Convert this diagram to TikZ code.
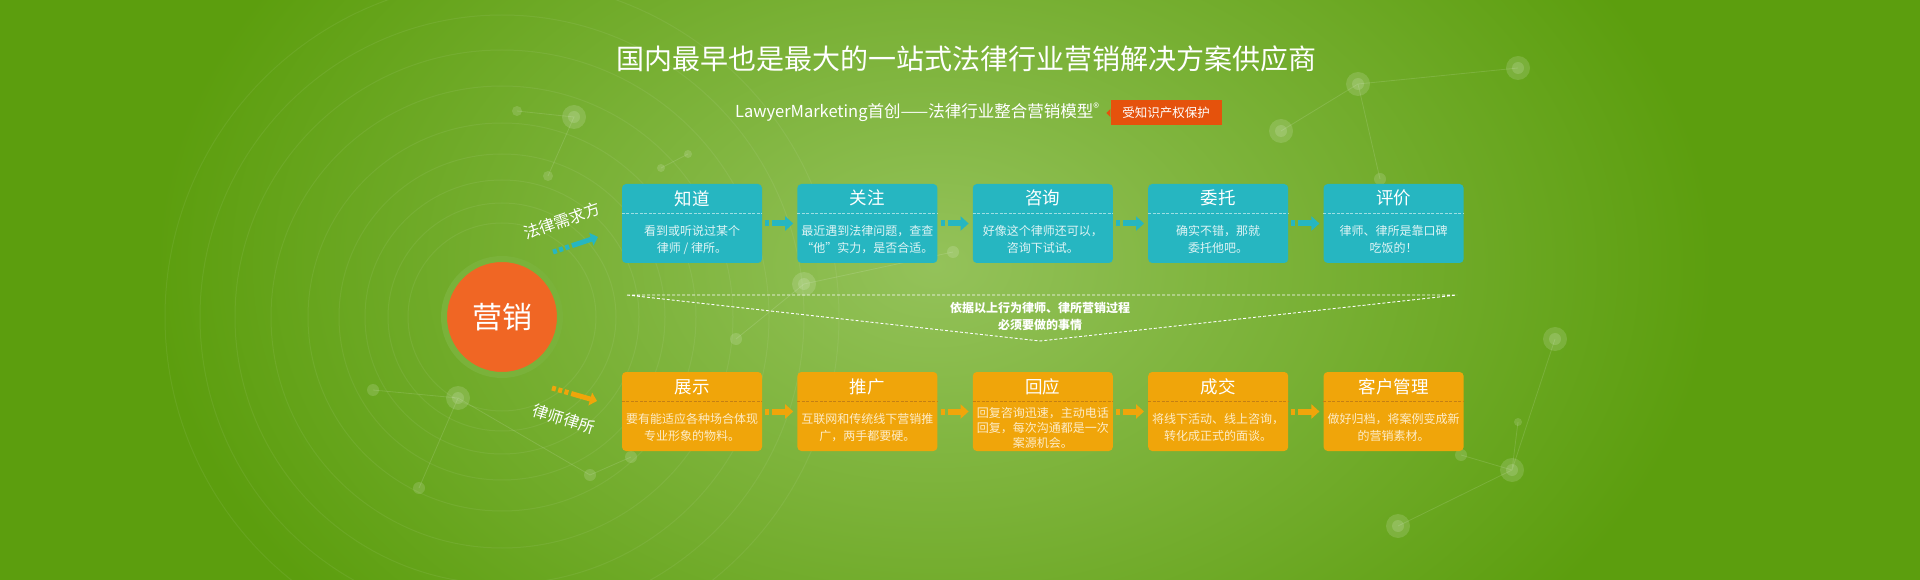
\documentclass[tikz,border=0pt]{standalone}
\usepackage{xcolor}
\usepackage{tikz}
\usepackage{fontspec}
\setmainfont{Noto Sans CJK SC}
\usetikzlibrary{arrows.meta,positioning,calc}
\definecolor{fieldgreen}{RGB}{92, 158, 14}
\definecolor{fieldglow}{RGB}{148, 194, 90}
\definecolor{asktide}{RGB}{38, 182, 193}
\definecolor{firmgold}{RGB}{240, 165, 10}
\definecolor{markorange}{RGB}{240, 102, 36}
\definecolor{markring}{RGB}{122, 178, 58}
\definecolor{badgered}{RGB}{229, 82, 12}
\definecolor{askmuted}{RGB}{222, 244, 245}
\definecolor{firmmuted}{RGB}{253, 236, 200}
\definecolor{firmseam}{RGB}{196, 128, 20}

\tikzset{
  ring/.style={white, opacity=0.065, line width=1pt},
  netline/.style={white, opacity=0.13, line width=0.8pt},
  netdot/.style={fill=white, opacity=0.14},
  card/.style={rounded corners=4pt, minimum width=140pt, minimum height=79pt, inner sep=0pt},
  askcard/.style={card, fill=asktide},
  firmcard/.style={card, fill=firmgold},
  cardtitle/.style={text=white, font=\fontsize{17.5}{20}\selectfont},
  askbody/.style={text=askmuted, align=center, font=\fontsize{12}{17}\selectfont},
  firmbody/.style={text=firmmuted, align=center, font=\fontsize{12}{17}\selectfont},
  askseam/.style={white, opacity=0.55, line width=0.8pt, dash pattern=on 3pt off 1.5pt},
  firmseamline/.style={firmseam, line width=0.8pt, dash pattern=on 3pt off 1.5pt},
  flow/.style={line width=6pt, dash pattern=on 4pt off 3pt on 40pt, shorten <=3pt, shorten >=4pt, -{Triangle[length=8pt,width=14pt]}},
  sideflow/.style={line width=5pt, dash pattern=on 4pt off 2.5pt on 4pt off 2.5pt on 4pt off 3pt on 30pt, -{Triangle[length=7pt,width=13pt]}},
  guide/.style={white, line width=0.9pt, dash pattern=on 3pt off 2pt},
}

\begin{document}
\begin{tikzpicture}[x=1pt, y=-1pt]
    % background
    \fill[fieldgreen] (0,0) rectangle (1920,580);
    \begin{scope}
        \clip (0,0) rectangle (1920,580);
        \shade[inner color=fieldglow, outer color=fieldgreen] (935,265) ellipse (780 and 540);
        \draw[ring] (502,317) circle (94) circle (114) circle (137) circle (163) circle (194)
            circle (231) circle (267) circle (302) circle (337);
        \draw[netline] (517,111) -- (574,117) -- (548,176) (661,168) -- (688,154);
        \draw[netline] (373,390) -- (458,398) -- (419,488) (458,398) -- (590,475) -- (631,457);
        \draw[netline] (736,339) -- (804,284) -- (953,252);
        \draw[netline] (1281,131) -- (1358,84) -- (1518,68) (1358,84) -- (1380,179);
        \draw[netline] (1555,339) -- (1512,470) -- (1398,526) (1518,422) -- (1512,470) -- (1461,455);
        \fill[netdot] (574,117) circle (12) (458,398) circle (12) (804,284) circle (12)
            (1358,84) circle (12) (1518,68) circle (12) (1281,131) circle (12)
            (1555,339) circle (12) (1512,470) circle (12) (1398,526) circle (12);
        \fill[netdot] (574,117) circle (6) (458,398) circle (6) (804,284) circle (6)
            (1358,84) circle (6) (1518,68) circle (6) (1281,131) circle (6)
            (1555,339) circle (6) (1512,470) circle (6) (1398,526) circle (6)
            (517,111) circle (5) (548,176) circle (5) (661,168) circle (4) (688,154) circle (4)
            (373,390) circle (6) (419,488) circle (6) (590,475) circle (6) (631,457) circle (6)
            (736,339) circle (6) (953,252) circle (6) (1380,179) circle (6)
            (1518,422) circle (4) (1461,455) circle (6);
    \end{scope}
    \useasboundingbox (0,0) rectangle (1920,580);

    % headline
    \node[text=white, font=\fontsize{28}{32}\selectfont] (headline) at (966,59) {国内最早也是最大的一站式法律行业营销解决方案供应商};
    \node[text=white, font=\fontsize{16.5}{18}\selectfont] (tagline) at (917,112) {LawyerMarketing首创——法律行业整合营销模型\raisebox{5pt}{\fontsize{12}{12}\selectfont ®}};
    \node[fill=badgered, text=white, minimum width=111pt, minimum height=25pt, inner sep=0pt,
          font=\fontsize{12.5}{14}\selectfont] (badge) at (1166,113) {受知识产权保护};
    \fill[badgered] ([yshift=4pt]badge.west) -- ([xshift=-4pt]badge.west) -- ([yshift=-4pt]badge.west) -- cycle;

    % hub
    \node[circle, fill=markorange, draw=markring, line width=6pt, minimum size=116pt,
          text=white, font=\fontsize{30}{34}\selectfont] (market) at (502,317) {营销};

    % client side
    \node[text=white, rotate=19, font=\fontsize{16}{18}\selectfont] (seeker) at (562,221) {法律需求方};
    \coordinate (seekfrom) at (553,252);
    \coordinate (seekto) at (598,237);
    \draw[sideflow, asktide] (seekfrom) -- (seekto);

    \node[askcard] (know) at (692,223.5) {};
    \node[askcard, right=35pt of know] (heed) {};
    \node[askcard, right=35pt of heed] (consult) {};
    \node[askcard, right=35pt of consult] (entrust) {};
    \node[askcard, right=35pt of entrust] (review) {};

    \node[cardtitle] at ([yshift=-14.5pt]know.north) {知道};
    \node[cardtitle] at ([yshift=-14.5pt]heed.north) {关注};
    \node[cardtitle] at ([yshift=-14.5pt]consult.north) {咨询};
    \node[cardtitle] at ([yshift=-14.5pt]entrust.north) {委托};
    \node[cardtitle] at ([yshift=-14.5pt]review.north) {评价};

    \node[askbody] at ([yshift=-56pt]know.north) {看到或听说过某个\\律师 / 律所。};
    \node[askbody] at ([yshift=-56pt]heed.north) {最近遇到法律问题，查查\\“他”实力，是否合适。};
    \node[askbody] at ([yshift=-56pt]consult.north) {好像这个律师还可以，\\咨询下试试。};
    \node[askbody] at ([yshift=-56pt]entrust.north) {确实不错，那就\\委托他吧。};
    \node[askbody] at ([yshift=-56pt]review.north) {律师、律所是靠口碑\\吃饭的！};

    \draw[askseam] ([yshift=-29.5pt]know.north west) -- ([yshift=-29.5pt]know.north east);
    \draw[askseam] ([yshift=-29.5pt]heed.north west) -- ([yshift=-29.5pt]heed.north east);
    \draw[askseam] ([yshift=-29.5pt]consult.north west) -- ([yshift=-29.5pt]consult.north east);
    \draw[askseam] ([yshift=-29.5pt]entrust.north west) -- ([yshift=-29.5pt]entrust.north east);
    \draw[askseam] ([yshift=-29.5pt]review.north west) -- ([yshift=-29.5pt]review.north east);

    \draw[flow, asktide] (know) -- (heed);
    \draw[flow, asktide] (heed) -- (consult);
    \draw[flow, asktide] (consult) -- (entrust);
    \draw[flow, asktide] (entrust) -- (review);

    % guide between the rows
    \coordinate (vleft) at (627,295);
    \coordinate (vright) at (1457,295);
    \coordinate (vapex) at (1040,341);
    \draw[guide] (vleft) -- (vright) (vleft) -- (vapex) -- (vright);
    \node[text=white, align=center, font=\bfseries\fontsize{12}{17}\selectfont] (guidenote) at (1040,316)
        {依据以上行为律师、律所营销过程\\必须要做的事情};

    % firm side
    \node[text=white, rotate=-17, font=\fontsize{16}{18}\selectfont] (firm) at (564,419) {律师律所};
    \coordinate (firmfrom) at (552,388);
    \coordinate (firmto) at (597,401);
    \draw[sideflow, firmgold] (firmfrom) -- (firmto);

    \node[firmcard] (display) at (692,411.5) {};
    \node[firmcard, right=35pt of display] (promote) {};
    \node[firmcard, right=35pt of promote] (respond) {};
    \node[firmcard, right=35pt of respond] (deal) {};
    \node[firmcard, right=35pt of deal] (client) {};

    \node[cardtitle] at ([yshift=-15pt]display.north) {展示};
    \node[cardtitle] at ([yshift=-15pt]promote.north) {推广};
    \node[cardtitle] at ([yshift=-15pt]respond.north) {回应};
    \node[cardtitle] at ([yshift=-15pt]deal.north) {成交};
    \node[cardtitle] at ([yshift=-15pt]client.north) {客户管理};

    \node[firmbody] at ([yshift=-56pt]display.north) {要有能适应各种场合体现\\专业形象的物料。};
    \node[firmbody] at ([yshift=-56pt]promote.north) {互联网和传统线下营销推\\广，两手都要硬。};
    \node[firmbody, font=\fontsize{12}{15}\selectfont] at ([yshift=-56pt]respond.north) {回复咨询迅速，主动电话\\回复，每次沟通都是一次\\案源机会。};
    \node[firmbody] at ([yshift=-56pt]deal.north) {将线下活动、线上咨询，\\转化成正式的面谈。};
    \node[firmbody] at ([yshift=-56pt]client.north) {做好归档，将案例变成新\\的营销素材。};

    \draw[firmseamline] ([yshift=-30pt]display.north west) -- ([yshift=-30pt]display.north east);
    \draw[firmseamline] ([yshift=-30pt]promote.north west) -- ([yshift=-30pt]promote.north east);
    \draw[firmseamline] ([yshift=-30pt]respond.north west) -- ([yshift=-30pt]respond.north east);
    \draw[firmseamline] ([yshift=-30pt]deal.north west) -- ([yshift=-30pt]deal.north east);
    \draw[firmseamline] ([yshift=-30pt]client.north west) -- ([yshift=-30pt]client.north east);

    \draw[flow, firmgold] (display) -- (promote);
    \draw[flow, firmgold] (promote) -- (respond);
    \draw[flow, firmgold] (respond) -- (deal);
    \draw[flow, firmgold] (deal) -- (client);
\end{tikzpicture}
\end{document}
